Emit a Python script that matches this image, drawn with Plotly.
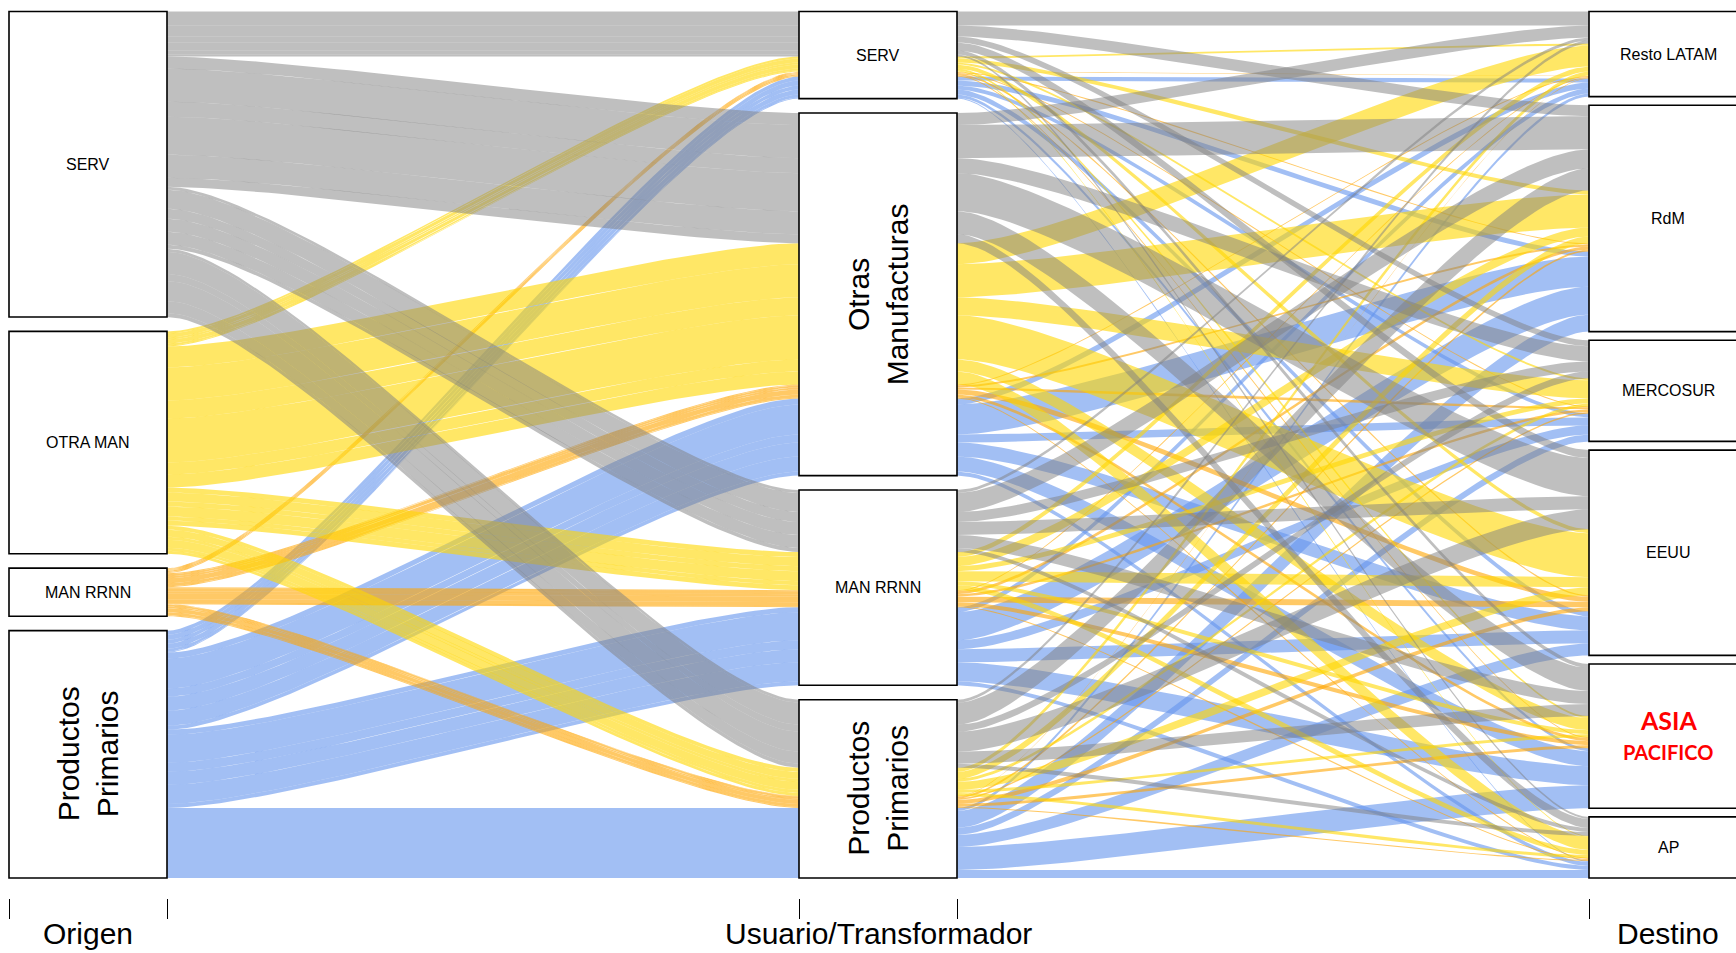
import plotly.graph_objects as go
import numpy as np

# ---------------- data ----------------
origen = ["SERV", "OTRA MAN", "MAN RRNN", "Productos Primarios"]
usuario = ["SERV", "Otras Manufacturas", "MAN RRNN", "Productos Primarios"]
destino = ["Resto LATAM", "RdM", "MERCOSUR", "EEUU", "ASIA PACIFICO", "AP"]

# rows: usuario (SERV, Otras Manuf., MAN RRNN, Prod. Primarios); cols: destino
flujo_serv = [
    [14, 11, 6, 8, 4, 2],
    [12, 33, 15, 38, 23, 9],
    [3, 19, 10, 13, 13, 4],
    [3, 22, 7, 20, 12, 4],
]
flujo_otra_man = [
    [2, 4, 2, 4, 2, 1],
    [21, 33, 18, 44, 12, 13],
    [5, 9, 5, 10, 4, 5],
    [4, 7, 3, 8, 3, 3],
]
flujo_man_rrnn = [
    [0.5, 1, 1, 1.5, 1, 0],
    [1, 2, 2, 5, 3, 1],
    [1, 3, 2.5, 5.5, 4, 1],
    [0.5, 2, 1.5, 4, 3, 1],
]
flujo_prod_prim = [
    [4, 5, 4, 5, 3, 1],
    [6, 30, 8, 14, 15, 4],
    [5, 28, 9, 13, 19, 4],
    [3, 17, 7, 12, 23, 8],
]
tablas = [flujo_serv, flujo_otra_man, flujo_man_rrnn, flujo_prod_prim]

colores = ["rgba(127,127,127,0.5)", "rgba(255,215,0,0.6)",
           "rgba(255,165,0,0.6)", "rgba(100,149,237,0.6)"]
ejes = ["Origen", "Usuario/Transformador", "Destino"]

# ---------------- layout params ----------------
GAP = 0.05   # total proportional gap between categories
CW = 0.1     # half width of category boxes
CTRL = 0.15  # spline control offset
FONT = "Arial, Liberation Sans, sans-serif"

rows = []
for oi, tab in enumerate(tablas):
    for ui in range(len(usuario)):
        for di in range(len(destino)):
            v = tab[ui][di]
            if v > 0:
                rows.append((oi, ui, di, v))
total = sum(r[3] for r in rows)


def stack(keyfun, catidx):
    order = sorted(range(len(rows)), key=lambda k: keyfun(rows[k]))
    ncat = len(set(rows[k][catidx] for k in order))
    g = GAP / max(ncat - 1, 1)
    pos = {}
    t = 0.0
    prev = None
    ngap = 0
    for k in order:
        c = rows[k][catidx]
        if prev is not None and c != prev:
            ngap += 1
        h = rows[k][3] / total * (1 - GAP)
        top = t + ngap * g
        pos[k] = (top, top + h)
        t += h
        prev = c
    return pos


pos_axes = [
    stack(lambda r: (r[0], r[1], r[2]), 0),
    stack(lambda r: (r[1], r[0], r[2]), 1),
    stack(lambda r: (r[2], r[0], r[1]), 2),
]

tt = np.linspace(0, 1, 60)


def bez(p0, p1, p2, p3):
    return ((1 - tt) ** 3) * p0 + 3 * ((1 - tt) ** 2) * tt * p1 + 3 * (1 - tt) * tt ** 2 * p2 + tt ** 3 * p3


fig = go.Figure()
order_draw = sorted(range(len(rows)), key=lambda k: -rows[k][0])
for k in order_draw:
    oi = rows[k][0]
    for i in range(2):
        x0 = (i + 1) + CW
        x1 = (i + 2) - CW
        a_top, a_bot = pos_axes[i][k]
        b_top, b_bot = pos_axes[i + 1][k]
        xs = bez(x0, x0 + CTRL, x1 - CTRL, x1)
        ytop = bez(a_top, a_top, b_top, b_top)
        ybot = bez(a_bot, a_bot, b_bot, b_bot)
        X = np.concatenate([xs, xs[::-1], xs[:1]])
        Y = 1 - np.concatenate([ytop, ybot[::-1], ytop[:1]])
        fig.add_trace(go.Scatter(x=X, y=Y, mode="lines", fill="toself",
                                 fillcolor=colores[oi], line=dict(width=0),
                                 hoverinfo="skip", showlegend=False))

# boxes + labels
cats = [origen, usuario, destino]
shapes = []
annotations = []
labels = [
    ["SERV", "OTRA MAN", "MAN RRNN", "Productos<br>Primarios"],
    ["SERV", "Otras<br>Manufacturas", "MAN RRNN", "Productos<br>Primarios"],
    ["Resto LATAM", "RdM", "MERCOSUR", "EEUU", None, "AP"],
]
rotated = [[False, False, False, True], [False, True, False, True],
           [False] * 6]
for a in range(3):
    for c in range(len(cats[a])):
        ks = [k for k in range(len(rows)) if rows[k][a] == c]
        if not ks:
            continue
        top = min(pos_axes[a][k][0] for k in ks)
        bot = max(pos_axes[a][k][1] for k in ks)
        xc = a + 1
        shapes.append(dict(type="rect", xref="x", yref="y", x0=xc - CW, x1=xc + CW,
                           y0=1 - bot, y1=1 - top, fillcolor="white",
                           line=dict(color="black", width=1.6), layer="above"))
        ym = 1 - (top + bot) / 2
        lab = labels[a][c]
        if lab is None:
            annotations.append(dict(x=xc, y=ym, xref="x", yref="y", yshift=16,
                                    text="<b>ASIA</b>", showarrow=False,
                                    font=dict(family="Lato, sans-serif", size=25, color="#ff0000")))
            annotations.append(dict(x=xc, y=ym, xref="x", yref="y", yshift=-16,
                                    text="<b>PACIFICO</b>", showarrow=False,
                                    font=dict(family="Lato, sans-serif", size=20, color="#ff0000")))
        elif rotated[a][c]:
            annotations.append(dict(x=xc, y=ym, xref="x", yref="y", text=lab,
                                    textangle=-90, showarrow=False,
                                    font=dict(family=FONT, size=30, color="black")))
        else:
            annotations.append(dict(x=xc, y=ym, xref="x", yref="y", text=lab,
                                    showarrow=False,
                                    font=dict(family=FONT, size=16, color="black")))

for a, name in enumerate(ejes):
    annotations.append(dict(x=a + 1, y=-0.040, xref="x", yref="paper", text=name,
                            showarrow=False, yanchor="middle",
                            font=dict(family=FONT, size=30, color="black")))

edges = []
for a in range(3):
    edges += [a + 1 - CW, a + 1 + CW]

PX_UNIT = 790.0
x_left = 1 - 88.0 / PX_UNIT
x_right = x_left + 1736.0 / PX_UNIT
span_px = 866.5
y_top = 1 + 11.5 / span_px
y_bot = -(898 - 878) / span_px

fig.update_layout(
    width=1736, height=953,
    margin=dict(l=0, r=0, t=0, b=55),
    paper_bgcolor="white", plot_bgcolor="white",
    shapes=shapes, annotations=annotations,
    xaxis=dict(range=[x_left, x_right], showgrid=False, zeroline=False, showline=False,
               tickmode="array", tickvals=edges, ticktext=[""] * len(edges),
               ticks="outside", ticklen=20, tickwidth=1, tickcolor="black", fixedrange=True),
    yaxis=dict(range=[y_bot, y_top], visible=False, fixedrange=True),
)
fig.write_html("out.html", config={"displayModeBar": False},
               post_script="document.body.style.margin='0px';document.body.style.overflow='hidden';")
